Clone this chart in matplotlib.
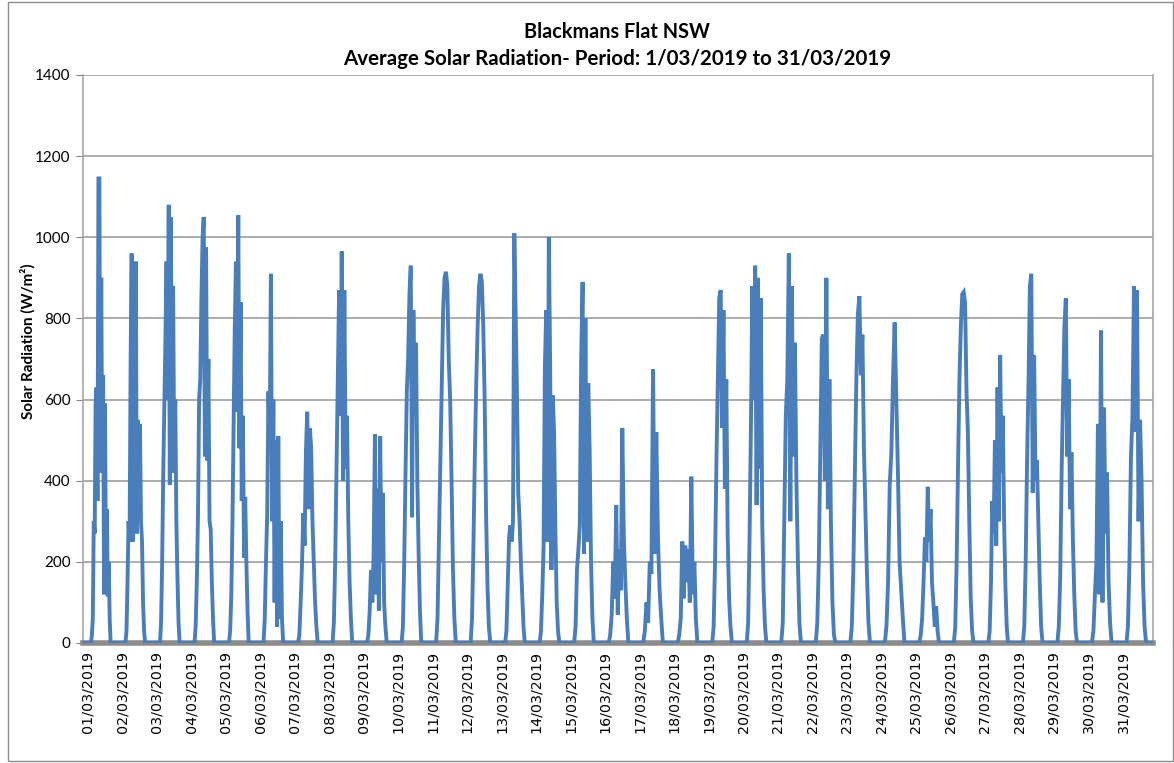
import numpy as np
import matplotlib
matplotlib.use("Agg")
import matplotlib.pyplot as plt
from matplotlib.patches import Rectangle

# fechas del eje x
dates = ["%02d/03/2019" % d for d in range(1, 32)]

# valores diurnos (W/m2), un bloque por dia
day_01 = [0, 20, 60, 300, 270, 590, 630, 350, 1145, 1145, 420, 900, 450, 660, 120, 590, 200, 330, 115, 200, 60, 0]
day_02 = [0, 30, 150, 300, 250, 700, 960, 250, 720, 350, 940, 270, 550, 360, 540, 300, 250, 100, 30, 0]
day_03 = [0, 50, 200, 420, 580, 750, 940, 600, 1080, 390, 1050, 420, 880, 470, 600, 300, 160, 50, 0]
day_04 = [0, 40, 150, 310, 600, 650, 850, 1000, 1050, 460, 975, 450, 700, 300, 280, 150, 60, 0]
day_05 = [0, 30, 120, 300, 530, 780, 940, 570, 1055, 480, 840, 350, 560, 210, 360, 200, 80, 0]
day_06 = [0, 60, 200, 320, 620, 480, 910, 300, 600, 100, 500, 40, 510, 60, 300, 60, 0]
day_07 = [0, 20, 100, 190, 320, 240, 470, 570, 330, 530, 480, 300, 200, 100, 40, 0]
day_08 = [0, 50, 200, 420, 650, 870, 560, 965, 400, 870, 430, 560, 300, 150, 60, 0]
day_09 = [0, 20, 80, 180, 100, 220, 515, 120, 380, 80, 510, 200, 370, 100, 40, 0]
day_10 = [0, 40, 200, 420, 620, 700, 860, 930, 310, 820, 560, 740, 400, 220, 80, 0]
day_11 = [0, 60, 250, 440, 640, 820, 900, 915, 880, 700, 600, 400, 180, 60, 0]
day_12 = [0, 60, 240, 460, 640, 780, 880, 910, 890, 780, 600, 320, 140, 40, 0]
day_13 = [0, 30, 150, 260, 290, 250, 300, 1010, 820, 620, 370, 300, 200, 120, 40, 0]
day_14 = [0, 30, 120, 240, 680, 820, 250, 1000, 690, 180, 610, 520, 280, 100, 30, 0]
day_15 = [0, 40, 180, 230, 290, 700, 890, 220, 800, 250, 640, 480, 200, 60, 0]
day_16 = [0, 20, 70, 200, 110, 340, 70, 230, 130, 530, 260, 150, 60, 0]
day_17 = [0, 30, 100, 50, 200, 170, 675, 220, 520, 260, 130, 60, 0]
day_18 = [0, 20, 60, 250, 110, 240, 150, 230, 100, 410, 120, 200, 60, 0]
day_19 = [0, 40, 200, 450, 650, 850, 870, 530, 820, 380, 650, 260, 110, 40, 0]
day_20 = [0, 50, 260, 540, 880, 600, 930, 340, 900, 430, 850, 300, 130, 40, 0]
day_21 = [0, 50, 300, 560, 650, 960, 300, 880, 460, 740, 400, 200, 50, 0]
day_22 = [0, 50, 200, 470, 750, 760, 400, 900, 330, 650, 300, 100, 20, 0]
day_23 = [0, 40, 180, 420, 650, 810, 855, 660, 760, 480, 320, 170, 50, 0]
day_24 = [0, 40, 150, 390, 470, 650, 790, 600, 420, 200, 130, 60, 0]
day_25 = [0, 20, 60, 150, 260, 200, 385, 250, 330, 150, 100, 40, 90, 30, 0]
day_26 = [0, 40, 200, 440, 650, 780, 860, 865, 840, 620, 520, 300, 110, 30, 0]
day_27 = [0, 30, 150, 350, 270, 500, 240, 630, 300, 710, 420, 560, 300, 140, 40, 0]
day_28 = [0, 40, 200, 450, 640, 880, 910, 370, 710, 400, 450, 300, 150, 40, 0]
day_29 = [0, 40, 160, 420, 600, 780, 850, 460, 650, 330, 470, 260, 120, 30, 0]
day_30 = [0, 30, 120, 200, 540, 120, 770, 100, 580, 270, 420, 150, 50, 0]
day_31 = [0, 40, 200, 460, 560, 880, 520, 870, 300, 550, 400, 150, 40, 0]

daily = [day_01, day_02, day_03, day_04, day_05, day_06, day_07, day_08, day_09, day_10,
         day_11, day_12, day_13, day_14, day_15, day_16, day_17, day_18, day_19, day_20,
         day_21, day_22, day_23, day_24, day_25, day_26, day_27, day_28, day_29, day_30, day_31]

# horas de sol como fraccion del dia
sunrise, sunset = 0.23, 0.80

t = [0.0]
y = [0.0]
for i, vals in enumerate(daily):
    pos = i + np.linspace(sunrise, sunset, len(vals))
    t.extend(pos)
    y.extend(vals)
    t.append(i + 1.0)
    y.append(0.0)

fig = plt.figure(figsize=(11.74, 7.63), dpi=100)
ax = fig.add_axes([83 / 1174, 1 - 643 / 763, (1153 - 83) / 1174, (643 - 75) / 763])

ax.plot(t, y, color="#4a7ebb", linewidth=2.8, solid_joinstyle="miter", zorder=3)

ax.set_xlim(0, 31)
ax.set_ylim(0, 1400)
ax.set_yticks(range(0, 1401, 200))
ax.yaxis.grid(True, color="#a6a6a6", linewidth=1.3)
ax.set_axisbelow(True)

ax.set_xticks(np.arange(31) + 0.13)
ax.set_xticklabels(dates, rotation=90, fontsize=10.3, family="DejaVu Sans")
ax.tick_params(axis="x", length=0, pad=6)
ax.tick_params(axis="y", length=5, color="#868686", labelsize=11, pad=4)
for lab in ax.get_yticklabels():
    lab.set_family("Lato")

for side in ["left", "right", "top"]:
    ax.spines[side].set_color("#a6a6a6")
    ax.spines[side].set_linewidth(1.2)
ax.spines["top"].set_visible(False)
ax.spines["bottom"].set_color("#8c8c8c")
ax.spines["bottom"].set_linewidth(4)

fig.text(28 / 1174, 1 - 341 / 763, "Solar Radiation (W/m²)", rotation=90,
         ha="center", va="center", fontsize=11, fontweight="bold", family="Lato")

fig.text(617 / 1174, 1 - 32 / 763, "Blackmans Flat NSW", ha="center", va="center",
         fontsize=14.3, fontweight="bold", family="Lato")
fig.text(617 / 1174, 1 - 59 / 763, "Average Solar Radiation- Period: 1/03/2019 to 31/03/2019",
         ha="center", va="center", fontsize=14.8, fontweight="bold", family="Lato")

fig.patches.append(Rectangle((8 / 1174, 0.003), 1 - 9 / 1174, 0.994, transform=fig.transFigure,
                             fill=False, edgecolor="#8c8c8c", linewidth=1))

fig.savefig("out.png", dpi=100)
